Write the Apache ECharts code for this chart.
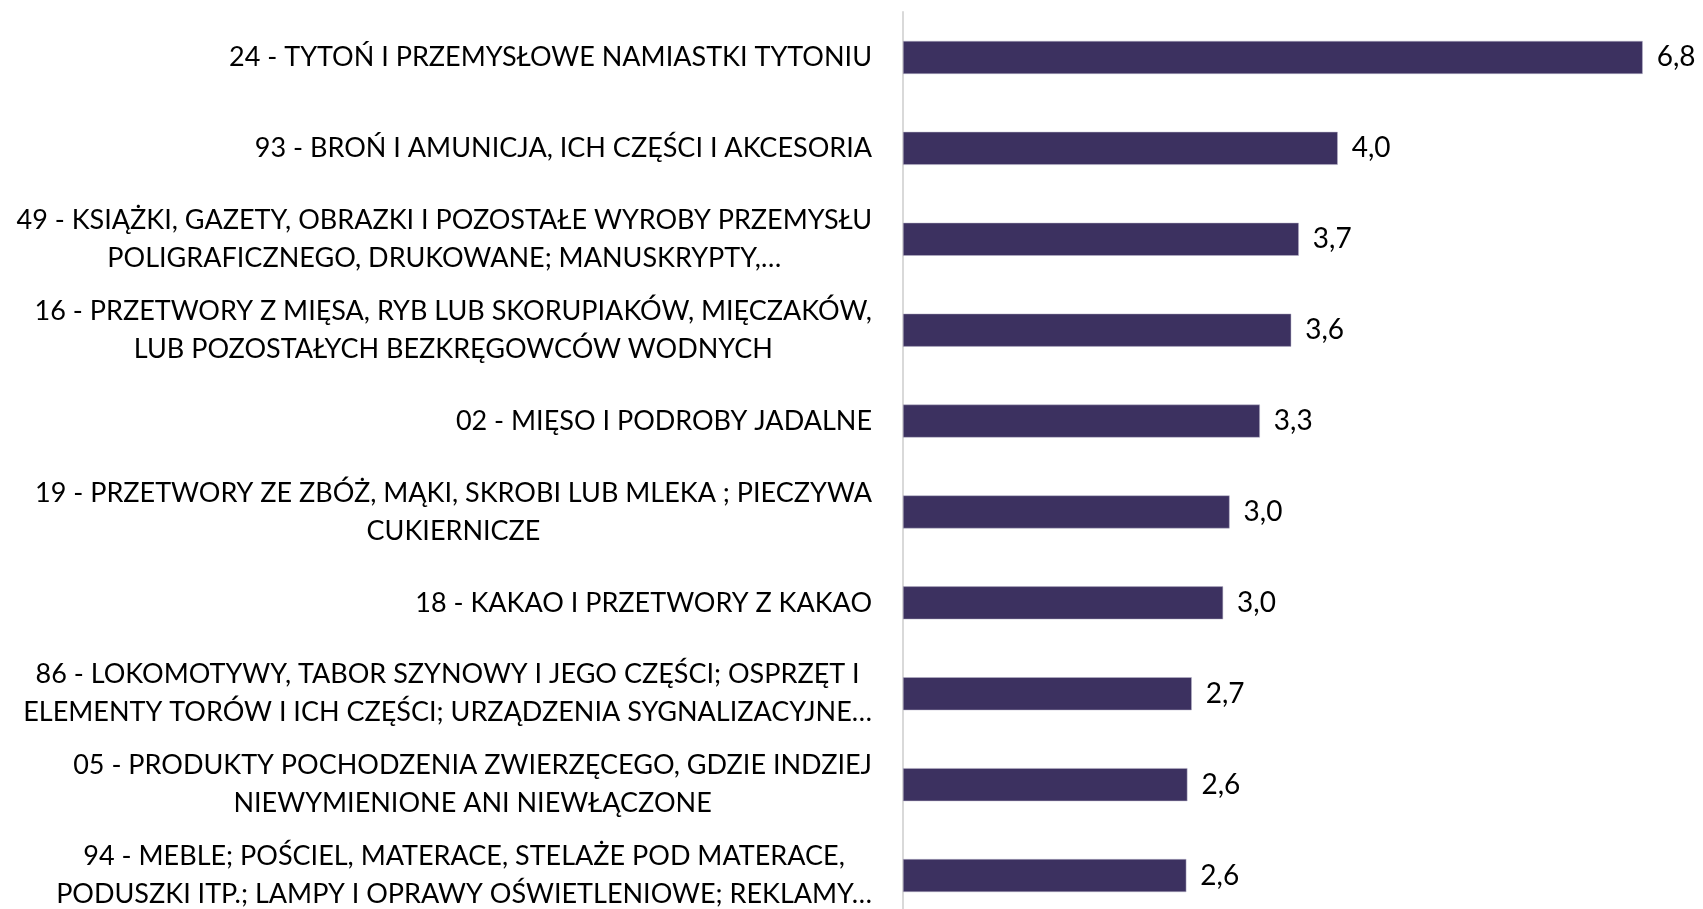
<!DOCTYPE html>
<html>
<head>
<meta charset="utf-8">
<script src="https://cdn.jsdelivr.net/npm/echarts@6/dist/echarts.min.js"></script>
<style>
  html, body { margin: 0; padding: 0; background: #fff; }
  #chart { width: 1703px; height: 909px; }
</style>
</head>
<body>
<div id="chart"></div>
<script>
// kategorie (z podziałem na linie jak w oryginale)
var categories = [
  '24 - TYTOŃ I PRZEMYSŁOWE NAMIASTKI TYTONIU',
  '93 - BROŃ I AMUNICJA, ICH CZĘŚCI I AKCESORIA',
  '49 - KSIĄŻKI, GAZETY, OBRAZKI I POZOSTAŁE WYROBY PRZEMYSŁU\nPOLIGRAFICZNEGO, DRUKOWANE; MANUSKRYPTY,…',
  '16 - PRZETWORY Z MIĘSA, RYB LUB SKORUPIAKÓW, MIĘCZAKÓW,\nLUB POZOSTAŁYCH BEZKRĘGOWCÓW WODNYCH',
  '02 - MIĘSO I PODROBY JADALNE',
  '19 - PRZETWORY ZE ZBÓŻ, MĄKI, SKROBI LUB MLEKA ; PIECZYWA\nCUKIERNICZE',
  '18 - KAKAO I PRZETWORY Z KAKAO',
  '86 - LOKOMOTYWY, TABOR SZYNOWY I JEGO CZĘŚCI; OSPRZĘT I\nELEMENTY TORÓW I ICH CZĘŚCI; URZĄDZENIA SYGNALIZACYJNE…',
  '05 - PRODUKTY POCHODZENIA ZWIERZĘCEGO, GDZIE INDZIEJ\nNIEWYMIENIONE ANI NIEWŁĄCZONE',
  '94 - MEBLE; POŚCIEL, MATERACE, STELAŻE POD MATERACE,\nPODUSZKI ITP.; LAMPY I OPRAWY OŚWIETLENIOWE; REKLAMY…'
]
var values = [6.84, 4.02, 3.66, 3.59, 3.30, 3.02, 2.96, 2.67, 2.63, 2.62]

var FONT = 'Lato'

var chart = echarts.init(document.getElementById('chart'))

chart.setOption({
  animation: false,
  grid: {
    left: 903,
    right: 43,
    top: 12,
    bottom: -12,
    outerBoundsMode: 'none'
  },
  xAxis: {
    type: 'value',
    min: 0,
    max: 7,
    show: false
  },
  yAxis: {
    type: 'category',
    inverse: true,
    data: categories,
    axisLine: { show: true, lineStyle: { color: '#d9d9d9', width: 2 } },
    axisTick: { show: false },
    axisLabel: {
      margin: 31,
      color: '#000',
      fontFamily: FONT,
      fontSize: 27,
      lineHeight: 38,
      formatter: function(v) {
        return v.split('\n').map(function(s) { return '{c|' + s + '}' }).join('\n')
      },
      rich: {
        c: { align: 'center', fontFamily: FONT, fontSize: 27, lineHeight: 38, color: '#000' }
      }
    }
  },
  series: [{
    type: 'bar',
    data: values,
    barWidth: 33,
    itemStyle: { color: '#3c3160', borderColor: '#b9b4c9', borderWidth: 0.5 },
    label: {
      show: true,
      position: 'right',
      distance: 14,
      color: '#000',
      fontFamily: FONT,
      fontSize: 28,
      formatter: function(p) { return p.value.toFixed(1).replace('.', ',') }
    }
  }]
})
</script>
</body>
</html>
